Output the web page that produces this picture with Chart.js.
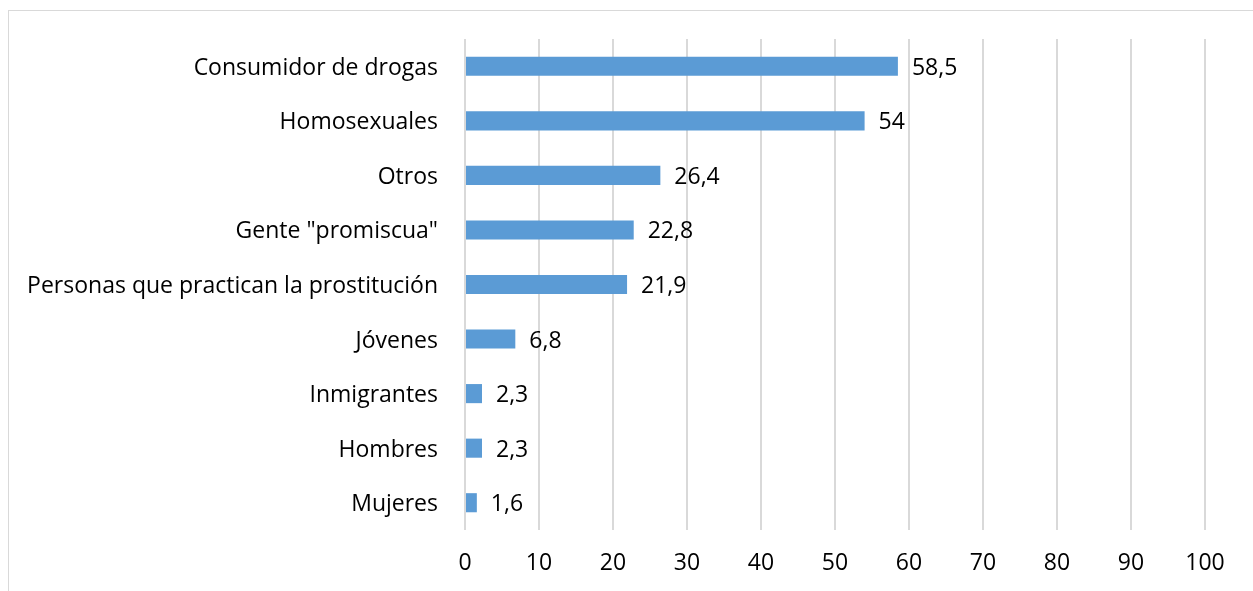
<!DOCTYPE html>
<html>
<head>
<meta charset="utf-8">
<script src="https://cdn.jsdelivr.net/npm/chart.js@4/dist/chart.umd.min.js"></script>
<style>
  html, body { margin: 0; padding: 0; background: #fff; overflow: hidden; }
  #wrap { position: relative; width: 1253px; height: 591px; }
  #frame { position: absolute; left: 8px; top: 10px; width: 1300px; height: 700px; border: 1px solid #d9d9d9; }
  canvas { position: absolute; left: 0; top: 0; }
</style>
</head>
<body>
<div id="wrap">
  <div id="frame"></div>
  <canvas id="chart" width="1253" height="591"></canvas>
</div>
<script>
// Groups named as most affected (percentage of answers)
const categories = [
  'Consumidor de drogas',
  'Homosexuales',
  'Otros',
  'Gente "promiscua"',
  'Personas que practican la prostitución',
  'Jóvenes',
  'Inmigrantes',
  'Hombres',
  'Mujeres'
];
const values = [58.5, 54, 26.4, 22.8, 21.9, 6.8, 2.3, 2.3, 1.6];
const xTicks = [0, 10, 20, 30, 40, 50, 60, 70, 80, 90, 100];

const FONT = { family: '"Open Sans", sans-serif', size: 23 };

// Value labels at the end of each bar, decimal comma
const barLabels = {
  id: 'barLabels',
  afterDatasetsDraw(chart) {
    const ctx = chart.ctx;
    const meta = chart.getDatasetMeta(0);
    ctx.save();
    ctx.font = FONT.size + 'px ' + FONT.family;
    ctx.fillStyle = '#000';
    ctx.textAlign = 'left';
    ctx.textBaseline = 'middle';
    meta.data.forEach((bar, i) => {
      const txt = String(values[i]).replace('.', ',');
      ctx.fillText(txt, bar.x + 14, bar.y + 2);
    });
    ctx.restore();
  }
};

new Chart(document.getElementById('chart').getContext('2d'), {
  type: 'bar',
  data: {
    labels: categories,
    datasets: [{
      data: values,
      backgroundColor: '#5B9BD5',
      borderWidth: 0,
      categoryPercentage: 1,
      barPercentage: 0.35
    }]
  },
  options: {
    indexAxis: 'y',
    responsive: false,
    animation: false,
    layout: { padding: { top: 39, right: 48, bottom: 0, left: 0 } },
    plugins: {
      legend: { display: false },
      tooltip: { enabled: false }
    },
    scales: {
      x: {
        min: 0,
        max: 100,
        afterBuildTicks: (scale) => { scale.ticks = xTicks.map(v => ({ value: v })); },
        afterFit: (scale) => { scale.height = 61; },
        grid: { color: '#d9d9d9', lineWidth: 2, drawTicks: false },
        border: { display: false },
        ticks: { color: '#000', font: FONT, padding: 20 }
      },
      y: {
        afterFit: (scale) => { scale.width = 465; },
        grid: { display: false },
        border: { display: false },
        ticks: { color: '#000', font: FONT, padding: 19, labelOffset: 2 }
      }
    }
  },
  plugins: [barLabels]
});
</script>
</body>
</html>
